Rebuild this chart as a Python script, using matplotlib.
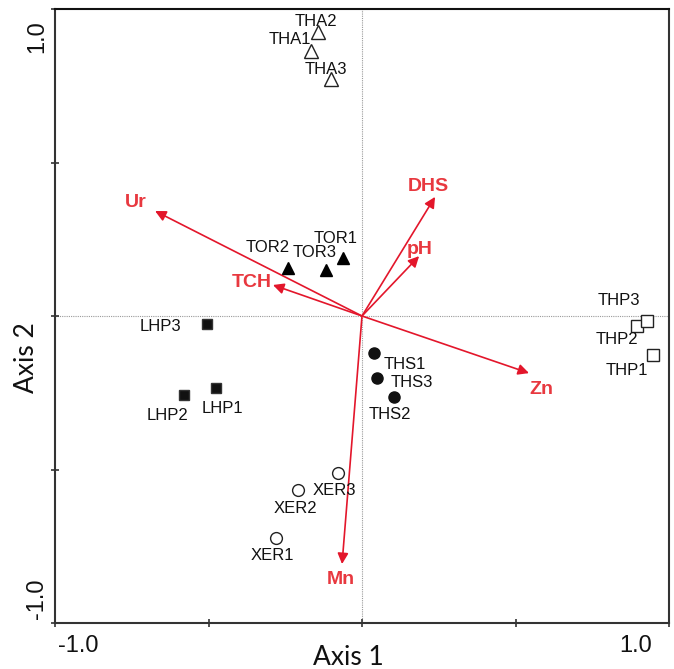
import matplotlib
matplotlib.use("Agg")
import matplotlib.pyplot as plt

plt.rcParams["font.family"] = ["Liberation Sans", "DejaVu Sans"]

# Sample scores (axis 1, axis 2)
tha_names = ["THA1", "THA2", "THA3"]
tha_x = [-0.166, -0.143, -0.101]
tha_y = [0.863, 0.925, 0.772]

tor_names = ["TOR1", "TOR2", "TOR3"]
tor_x = [-0.062, -0.241, -0.117]
tor_y = [0.189, 0.156, 0.150]

lhp_names = ["LHP1", "LHP2", "LHP3"]
lhp_x = [-0.476, -0.580, -0.506]
lhp_y = [-0.235, -0.257, -0.026]

ths_names = ["THS1", "THS2", "THS3"]
ths_x = [0.039, 0.104, 0.049]
ths_y = [-0.121, -0.264, -0.202]

thp_names = ["THP1", "THP2", "THP3"]
thp_x = [0.948, 0.896, 0.928]
thp_y = [-0.127, -0.033, -0.016]

xer_names = ["XER1", "XER2", "XER3"]
xer_x = [-0.280, -0.208, -0.078]
xer_y = [-0.723, -0.567, -0.511]

# Environmental variables (arrow tips)
var_names = ["Ur", "TCH", "DHS", "pH", "Zn", "Mn"]
var_x = [-0.674, -0.290, 0.238, 0.186, 0.544, -0.065]
var_y = [0.342, 0.101, 0.388, 0.195, -0.186, -0.808]

# label offsets in pixels (dx right, dy down)
sample_off = {
    "THA1": (-21, -12), "THA2": (-2, -11), "THA3": (-5, -9),
    "TOR1": (-7, -19), "TOR2": (-20, -21), "TOR3": (-11, -17),
    "LHP1": (7, 20), "LHP2": (-16, 21), "LHP3": (-46, 3),
    "THS1": (31, 11), "THS2": (-4, 17), "THS3": (35, 4),
    "THP1": (-26, 16), "THP2": (-20, 13), "THP3": (-28, -20),
    "XER1": (-4, 18), "XER2": (-3, 18), "XER3": (-4, 18),
}
var_off = {"Ur": (-19, -9), "TCH": (-21, -2), "DHS": (-7, -10),
           "pH": (1, -7), "Zn": (12, 16), "Mn": (-1, 15)}

px = 72 / 100  # pixels -> points

fig = plt.figure(figsize=(6.74, 6.69), dpi=100)
ax = fig.add_axes([55 / 674, 46 / 669, 614 / 674, 614 / 669])
ax.set_xlim(-1, 1)
ax.set_ylim(-1, 1)

ax.axhline(0, color="#9a9a9a", lw=0.8, ls=(0, (1, 1)), zorder=0)
ax.axvline(0, color="#9a9a9a", lw=0.8, ls=(0, (1, 1)), zorder=0)

groups = [
    (tha_names, tha_x, tha_y, dict(marker="^", mfc="white", mec="#222", ms=9.5)),
    (tor_names, tor_x, tor_y, dict(marker="^", mfc="black", mec="black", ms=8)),
    (lhp_names, lhp_x, lhp_y, dict(marker="s", mfc="#111", mec="#333", ms=7.5)),
    (ths_names, ths_x, ths_y, dict(marker="o", mfc="#111", mec="#111", ms=8)),
    (thp_names, thp_x, thp_y, dict(marker="s", mfc="white", mec="#222", ms=8.5)),
    (xer_names, xer_x, xer_y, dict(marker="o", mfc="white", mec="#222", ms=8.5)),
]
for names, xs, ys, style in groups:
    ax.plot(xs, ys, ls="none", mew=1.0, zorder=3, **style)
    for n, x, y in zip(names, xs, ys):
        dx, dy = sample_off[n]
        ax.annotate(n, (x, y), xytext=(dx * px, -dy * px), textcoords="offset points",
                    ha="center", va="center", fontsize=12, color="#111", zorder=4)

for n, x, y in zip(var_names, var_x, var_y):
    ax.annotate("", xy=(x, y), xytext=(0, 0),
                arrowprops=dict(arrowstyle="-|>", color="#e3162b", lw=1.2,
                                mutation_scale=16, shrinkA=0, shrinkB=0),
                zorder=2)
    dx, dy = var_off[n]
    ax.annotate(n, (x, y), xytext=(dx * px, -dy * px), textcoords="offset points",
                ha="center", va="center", fontsize=14, fontweight="bold",
                color="#e8383f", zorder=4)

for s in ax.spines.values():
    s.set_color("#333333")
    s.set_linewidth(1.5)
ax.spines["top"].set_color("#111111")

ax.set_xticks([-1, -0.5, 0, 0.5, 1])
ax.set_yticks([-1, -0.5, 0, 0.5, 1])
ax.set_xticklabels([])
ax.set_yticklabels([])
ax.tick_params(direction="inout", length=6, width=1.2, color="#333333")

# tick labels placed as in the original
xt = ax.get_xaxis_transform()
yt = ax.get_yaxis_transform()
ax.text(-0.925, -0.038, "-1.0", transform=xt, ha="center", va="center", fontsize=17, color="#111")
ax.text(0.89, -0.038, "1.0", transform=xt, ha="center", va="center", fontsize=17, color="#111")
ax.text(-0.029, 0.91, "1.0", transform=yt, ha="center", va="center", fontsize=17,
        rotation=90, color="#111")
ax.text(-0.029, -0.92, "-1.0", transform=yt, ha="center", va="center", fontsize=17,
        rotation=90, color="#111")

ax.text(0.477, -0.056, "Axis 1", transform=ax.transAxes, ha="center", va="center",
        fontsize=19, family="Lato", color="#111")
ax.text(-0.047, 0.433, "Axis 2", transform=ax.transAxes, ha="center", va="center",
        fontsize=19, family="Lato", rotation=90, color="#111")

fig.savefig("out.png", dpi=100)
